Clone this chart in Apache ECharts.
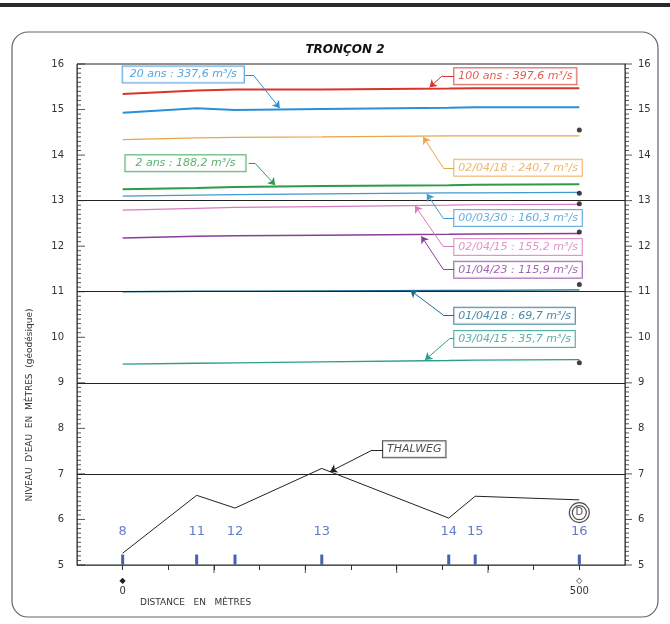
<!DOCTYPE html>
<html><head><meta charset="utf-8">
<script src="https://cdn.jsdelivr.net/npm/echarts@6/dist/echarts.min.js"></script>
<style>html,body{margin:0;padding:0;background:#fff}#c{width:670px;height:624px}</style>
</head><body><div id="c"></div>
<script>
// ---- data ----
const distances = [0, 81, 123, 218, 357, 386, 500];
const profiles  = ['8', '11', '12', '13', '14', '15', '16'];
const thalweg   = [5.26, 6.53, 6.25, 7.12, 6.03, 6.51, 6.43];
const q100ans   = [15.34, 15.42, 15.44, 15.44, 15.46, 15.47, 15.47];
const q20ans    = [14.93, 15.03, 14.99, 15.01, 15.04, 15.05, 15.05];
const q020418   = [14.34, 14.38, 14.39, 14.40, 14.42, 14.42, 14.42];
const q2ans     = [13.25, 13.28, 13.30, 13.32, 13.34, 13.35, 13.36];
const q000330   = [13.10, 13.12, 13.13, 13.15, 13.17, 13.17, 13.18];
const q020415   = [12.79, 12.83, 12.85, 12.87, 12.90, 12.91, 12.92];
const q010423   = [12.18, 12.22, 12.23, 12.24, 12.26, 12.27, 12.28];
const q010418   = [11.00, 11.01, 11.01, 11.02, 11.03, 11.03, 11.04];
const q030415   = [9.41, 9.43, 9.44, 9.46, 9.49, 9.50, 9.51];
const endMarks  = [14.55, 13.16, 12.93, 12.31, 11.16, 9.44];
const refLevels = [7, 9, 11, 13];
const yTickLabels = [5, 6, 7, 8, 9, 10, 11, 12, 13, 14, 15, 16];
const xLongTicks = [100, 200, 300, 400];
const noteTexts = ['20 ans : 337,6 m³/s', '100 ans : 397,6 m³/s', '02/04/18 : 240,7 m³/s',
  '2 ans : 188,2 m³/s', '00/03/30 : 160,3 m³/s', '02/04/15 : 155,2 m³/s',
  '01/04/23 : 115,9 m³/s', '01/04/18 : 69,7 m³/s', '03/04/15 : 35,7 m³/s', 'THALWEG'];
const xLabelValues = [0, 500];

// ---- styling / layout ----
const water = [
  {name: noteTexts[1], data: q100ans, color: '#d8352a', width: 2},
  {name: noteTexts[0], data: q20ans,  color: '#2b8fd8', width: 2},
  {name: noteTexts[2], data: q020418, color: '#e9a54a', width: 1.2},
  {name: noteTexts[3], data: q2ans,   color: '#2f9a4c', width: 2},
  {name: noteTexts[4], data: q000330, color: '#3f9bd2', width: 1.2},
  {name: noteTexts[5], data: q020415, color: '#d77bbd', width: 1.2},
  {name: noteTexts[6], data: q010423, color: '#8b3d9c', width: 1.5},
  {name: noteTexts[7], data: q010418, color: '#1d6b8e', width: 1.3},
  {name: noteTexts[8], data: q030415, color: '#2c9c8c', width: 1.3}
];
const col = {};
water.forEach(w => col[w.name] = w.color);
col['THALWEG'] = '#222';

// annotation placement: [text, box anchor (left edge, centre), stub start, stub end, arrow tip, padding]
const notes = [
  [noteTexts[0], [0, 15.77],   [134, 15.76], [143, 15.76], [172, 15.03], [3, 7, 2, 7]],
  [noteTexts[1], [363, 15.73], [363, 15.74], [350, 15.74], [336, 15.49], null],
  [noteTexts[2], [363, 13.72], [363, 13.72], [351, 13.72], [329, 14.40], null],
  [noteTexts[3], [3, 13.82],   [138, 13.82], [145, 13.82], [167, 13.34], [3, 10, 2, 10]],
  [noteTexts[4], [363, 12.62], [363, 12.61], [351, 12.61], [333, 13.15], null],
  [noteTexts[5], [363, 11.98], [363, 11.99], [351, 11.99], [320, 12.89], null],
  [noteTexts[6], [363, 11.48], [363, 11.49], [351, 11.49], [327, 12.22], null],
  [noteTexts[7], [363, 10.47], [363, 10.49], [351, 10.49], [315, 11.03], null],
  [noteTexts[8], [363, 9.96],  [363, 9.97],  [358, 9.97],  [331, 9.50], null],
  [noteTexts[9], [285, 7.54],  [285, 7.52],  [273, 7.52],  [227, 7.05], null]
];

// axis graduation positions (tenths between labelled metres)
const yMinorTicks = [];
yTickLabels.slice(0, -1).forEach(m => { for (let k = 1; k < 10; k++) yMinorTicks.push(+(m + k / 10).toFixed(1)); });

const chart = echarts.init(document.getElementById('c'));
const pair = arr => distances.map((d, i) => [d, arr[i]]);

const series = [];
series.push({
  type: 'line', name: 'THALWEG', data: pair(thalweg), showSymbol: false, z: 5,
  lineStyle: {color: '#222', width: 1}, itemStyle: {color: '#222'},
  markLine: {silent: true, symbol: 'none', label: {show: false},
    lineStyle: {color: '#222', width: 1, type: 'solid'},
    data: refLevels.map(v => ({yAxis: v}))}
});
water.forEach(w => series.push({
  type: 'line', name: w.name, data: pair(w.data), showSymbol: false, z: 4,
  lineStyle: {color: w.color, width: w.width}, itemStyle: {color: w.color}
}));
// graduation marks on both vertical scales and longer marks on the distance scale
const tickStyle = {color: '#2a2a2a'};
[[-50, yTickLabels, [8, 1], [4, 0]], [-50, yMinorTicks, [4, 1], [2, 0]],
 [550, yTickLabels, [7, 1], [3.5, 0]], [550, yMinorTicks, [4, 1], [2, 0]]].forEach(t => series.push({
  type: 'scatter', name: 'graduations', silent: true, clip: false, z: 10,
  data: t[1].map(v => [t[0], v]), symbol: 'rect', symbolSize: t[2], symbolOffset: t[3], itemStyle: tickStyle
}));
series.push({
  type: 'scatter', name: 'graduations x', silent: true, clip: false, z: 10,
  data: xLongTicks.map(d => [d, 5]), symbol: 'rect', symbolSize: [1, 8], symbolOffset: [0, 4], itemStyle: tickStyle
});
series.push({
  type: 'scatter', name: 'ends', data: endMarks.map(v => [500, v]),
  symbolSize: 5, itemStyle: {color: '#111'}, z: 6
});
series.push({
  type: 'scatter', name: 'profil ticks', data: distances.map(d => [d, 5.12]),
  symbol: 'rect', symbolSize: [3, 10], itemStyle: {color: '#1c3b9a'}, z: 6
});
series.push({
  type: 'scatter', name: 'profils', symbolSize: 0, z: 6,
  data: distances.map((d, i) => ({name: profiles[i], value: [d, 5.74]})),
  label: {show: true, position: 'inside', formatter: '{b}', color: '#3a5cb8',
    fontSize: 13, fontFamily: 'DejaVu Sans'}
});
series.push({
  type: 'scatter', name: 'D outer', data: [[500, 6.15]], symbol: 'circle', symbolSize: 20, z: 6,
  itemStyle: {color: '#fff', borderColor: '#222', borderWidth: 1.2}
});
series.push({
  type: 'scatter', name: 'D inner', data: [{name: 'D', value: [500, 6.15]}], symbol: 'circle', symbolSize: 14, z: 7,
  itemStyle: {color: '#fff', borderColor: '#222', borderWidth: 1.2},
  label: {show: true, position: 'inside', formatter: '{b}', color: '#222', fontSize: 10, fontFamily: 'DejaVu Sans'}
});
series.push({
  type: 'lines', coordinateSystem: 'cartesian2d', name: 'stubs', symbol: 'none', z: 8,
  lineStyle: {width: 1, opacity: 1},
  data: notes.map(n => ({coords: [n[2], n[3]], lineStyle: {color: col[n[0]]}}))
});
series.push({
  type: 'lines', coordinateSystem: 'cartesian2d', name: 'arrows', symbol: ['none', 'arrow'], symbolSize: 7, z: 8,
  lineStyle: {width: 1, opacity: 1},
  data: notes.map(n => ({coords: [n[3], n[4]], lineStyle: {color: col[n[0]]}}))
});
series.push({
  type: 'scatter', name: 'notes', symbolSize: 0, z: 9,
  data: notes.map(n => {
    const lab = {color: col[n[0]], borderColor: col[n[0]]};
    if (n[5]) lab.padding = n[5];
    return {name: n[0], value: n[1], label: lab};
  }),
  label: {show: true, position: 'right', distance: 0, formatter: '{b}',
    fontSize: 11, fontStyle: 'italic', fontFamily: 'DejaVu Sans',
    backgroundColor: '#fff', borderWidth: 1, padding: [3, 4, 2, 4]}
});

chart.setOption({
  animation: false,
  backgroundColor: '#fff',
  grid: {left: 77, right: 45, top: 64, bottom: 59, show: true, borderColor: '#222', borderWidth: 1},
  xAxis: {
    type: 'value', min: -50, max: 550, interval: 50,
    axisLine: {onZero: false},
    axisTick: {show: true, length: 5, lineStyle: {color: '#333'}},
    splitLine: {show: false},
    axisLabel: {margin: 10, color: '#333', fontSize: 10, fontFamily: 'DejaVu Sans',
      lineHeight: 11, showMinLabel: false, showMaxLabel: false,
      formatter: v => xLabelValues.indexOf(v) < 0 ? '' : (v === 0 ? '{d|◆}' : '{d|◇}') + '\n' + v,
      rich: {d: {fontSize: 8, color: '#222', lineHeight: 11}}}
  },
  yAxis: [
    {type: 'value', min: 5, max: 16, interval: 1, position: 'left', axisLine: {show: true, onZero: false},
     axisTick: {show: false}, minorTick: {show: false}, splitLine: {show: false},
     axisLabel: {fontFamily: 'DejaVu Sans', margin: 13, color: '#333', fontSize: 10}},
    {type: 'value', min: 5, max: 16, interval: 1, position: 'right', axisLine: {show: true, onZero: false},
     axisTick: {show: false}, minorTick: {show: false}, splitLine: {show: false},
     axisLabel: {fontFamily: 'DejaVu Sans', margin: 13, color: '#333', fontSize: 10}}
  ],
  graphic: [
    {type: 'rect', shape: {x: 0, y: 3, width: 670, height: 4}, style: {fill: '#2a2a2a'}, silent: true},
    {type: 'rect', shape: {x: 12, y: 32, width: 646, height: 585, r: 16}, style: {fill: 'none', stroke: '#666', lineWidth: 1.2}, silent: true, z: -1},
    {type: 'text', x: 345, y: 50, style: {text: 'TRONÇON 2', fontSize: 12, fontWeight: 'bold', fontStyle: 'italic',
      fontFamily: 'DejaVu Sans', fill: '#111', align: 'center', verticalAlign: 'middle'}},
    {type: 'text', x: 30, y: 405, rotation: Math.PI / 2, style: {text: "NIVEAU  D'EAU  EN  MÈTRES  (géodésique)",
      fontSize: 9, fontFamily: 'DejaVu Sans', fill: '#333', align: 'center', verticalAlign: 'middle'}},
    {type: 'text', x: 140, y: 603, style: {text: 'DISTANCE   EN   MÈTRES', fontSize: 9, fontFamily: 'DejaVu Sans',
      fill: '#333', align: 'left', verticalAlign: 'middle'}}
  ],
  series: series
});
</script>
</body></html>
